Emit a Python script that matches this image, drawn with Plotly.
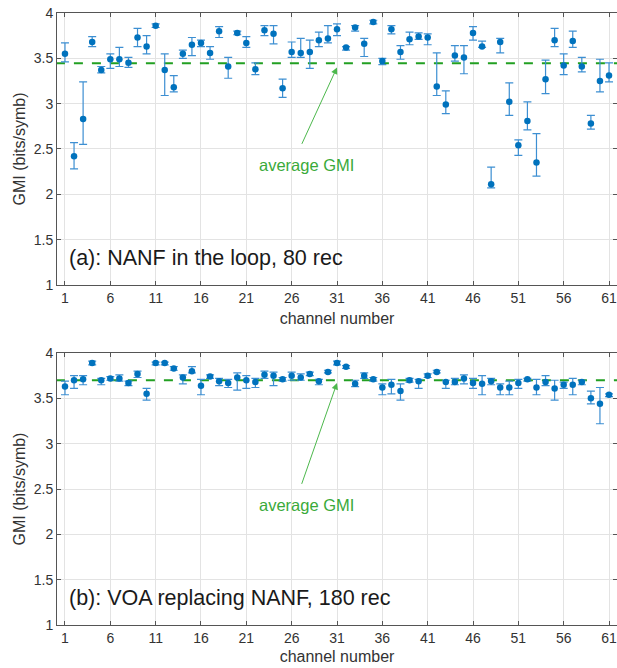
import plotly.graph_objects as go

channels = list(range(1, 62))

# Panel (a): NANF in the loop, 80 rec
gmi_a = [3.55, 2.42, 2.83, 3.68, 3.37, 3.49, 3.49, 3.45, 3.73, 3.63,
         3.86, 3.37, 3.18, 3.55, 3.65, 3.67, 3.56, 3.80, 3.41, 3.78,
         3.67, 3.38, 3.81, 3.77, 3.17, 3.57, 3.56, 3.57, 3.70, 3.72,
         3.82, 3.62, 3.84, 3.66, 3.90, 3.47, 3.82, 3.57, 3.71, 3.74,
         3.73, 3.19, 2.99, 3.53, 3.51, 3.78, 3.63, 2.11, 3.68, 3.02,
         2.54, 2.81, 2.35, 3.27, 3.70, 3.42, 3.69, 3.41, 2.78, 3.25, 3.31]
gmi_a_hi = [3.67, 2.57, 3.24, 3.74, 3.41, 3.55, 3.62, 3.51, 3.83, 3.75,
            3.88, 3.55, 3.31, 3.59, 3.73, 3.70, 3.63, 3.85, 3.51, 3.80,
            3.74, 3.45, 3.86, 3.86, 3.27, 3.68, 3.72, 3.70, 3.79, 3.86,
            3.88, 3.63, 3.86, 3.72, 3.92, 3.50, 3.86, 3.64, 3.79, 3.78,
            3.77, 3.56, 3.14, 3.64, 3.64, 3.85, 3.69, 2.30, 3.72, 3.23,
            2.60, 3.02, 2.67, 3.48, 3.83, 3.55, 3.80, 3.51, 2.87, 3.49, 3.45]
gmi_a_lo = [3.46, 2.28, 2.55, 3.63, 3.34, 3.39, 3.41, 3.40, 3.63, 3.55,
            3.84, 3.09, 3.13, 3.50, 3.53, 3.63, 3.49, 3.73, 3.28, 3.76,
            3.62, 3.32, 3.75, 3.66, 3.07, 3.51, 3.51, 3.39, 3.63, 3.67,
            3.75, 3.59, 3.80, 3.52, 3.88, 3.43, 3.77, 3.49, 3.65, 3.71,
            3.65, 3.09, 2.89, 3.47, 3.33, 3.70, 3.62, 2.07, 3.56, 2.87,
            2.43, 2.71, 2.20, 3.11, 3.63, 3.32, 3.62, 3.35, 2.72, 3.13, 3.24]
avg_a = 3.445

# Panel (b): VOA replacing NANF, 180 rec
gmi_b = [3.63, 3.70, 3.71, 3.89, 3.70, 3.72, 3.72, 3.67, 3.77, 3.55,
         3.89, 3.89, 3.83, 3.73, 3.80, 3.64, 3.74, 3.69, 3.67, 3.73,
         3.70, 3.68, 3.76, 3.75, 3.71, 3.75, 3.73, 3.77, 3.69, 3.79,
         3.89, 3.85, 3.66, 3.75, 3.71, 3.62, 3.65, 3.58, 3.70, 3.69,
         3.75, 3.79, 3.68, 3.68, 3.72, 3.67, 3.66, 3.69, 3.62, 3.62,
         3.67, 3.71, 3.62, 3.68, 3.61, 3.65, 3.65, 3.68, 3.50, 3.44, 3.54]
gmi_b_hi = [3.69, 3.75, 3.75, 3.91, 3.72, 3.74, 3.76, 3.69, 3.80, 3.61,
            3.90, 3.90, 3.85, 3.76, 3.85, 3.71, 3.76, 3.72, 3.71, 3.78,
            3.75, 3.72, 3.80, 3.79, 3.73, 3.79, 3.77, 3.79, 3.71, 3.81,
            3.91, 3.86, 3.70, 3.78, 3.73, 3.66, 3.71, 3.66, 3.72, 3.71,
            3.77, 3.81, 3.70, 3.72, 3.76, 3.72, 3.75, 3.72, 3.66, 3.69,
            3.71, 3.72, 3.71, 3.75, 3.70, 3.68, 3.72, 3.70, 3.58, 3.62, 3.55]
gmi_b_lo = [3.54, 3.61, 3.65, 3.87, 3.65, 3.70, 3.69, 3.64, 3.73, 3.48,
            3.87, 3.87, 3.81, 3.66, 3.78, 3.54, 3.72, 3.64, 3.62, 3.59,
            3.61, 3.62, 3.72, 3.64, 3.69, 3.70, 3.70, 3.75, 3.65, 3.78,
            3.87, 3.83, 3.63, 3.72, 3.69, 3.54, 3.55, 3.48, 3.68, 3.61,
            3.73, 3.78, 3.61, 3.65, 3.66, 3.61, 3.54, 3.65, 3.54, 3.54,
            3.61, 3.69, 3.54, 3.64, 3.48, 3.61, 3.54, 3.65, 3.44, 3.22, 3.52]
avg_b = 3.70

x_ticks = [1, 6, 11, 16, 21, 26, 31, 36, 41, 46, 51, 56, 61]
y_ticks = [1, 1.5, 2, 2.5, 3, 3.5, 4]
panel_labels = ["(a): NANF in the loop, 80 rec", "(b): VOA replacing NANF, 180 rec"]

BLUE = "#0072BD"
BAR = "#3d8fd2"
GREEN_LINE = "#22a022"
GREEN_TXT = "#3aaa3a"
FONT = "Liberation Sans, Arial, sans-serif"

fig = go.Figure()

def add_panel(vals, hi, lo, avg, xa, ya):
    fig.add_trace(go.Scatter(
        x=[channels[0] - 1, channels[-1] + 1], y=[avg, avg], mode="lines",
        line=dict(color=GREEN_LINE, width=2, dash="dash"),
        xaxis=xa, yaxis=ya, showlegend=False, hoverinfo="skip"))
    fig.add_trace(go.Scatter(
        x=channels, y=vals, mode="markers",
        marker=dict(color=BLUE, size=6.5),
        error_y=dict(type="data", symmetric=False,
                     array=[h - v for h, v in zip(hi, vals)],
                     arrayminus=[v - l for v, l in zip(vals, lo)],
                     color=BAR, thickness=1.2, width=4),
        xaxis=xa, yaxis=ya, showlegend=False))

add_panel(gmi_a, gmi_a_hi, gmi_a_lo, avg_a, "x", "y")
add_panel(gmi_b, gmi_b_hi, gmi_b_lo, avg_b, "x2", "y2")

axis_common = dict(showline=True, linecolor="#555555", linewidth=1,
                   mirror="ticks", ticks="inside", ticklen=4, tickcolor="#555555",
                   showgrid=True, gridcolor="#e3e3e3", gridwidth=1, zeroline=False,
                   tickfont=dict(family=FONT, size=14, color="#333333"))

xr = [0.12, 61.88]
fig.update_layout(
    width=617, height=668,
    margin=dict(l=57, r=0, t=13, b=43),
    paper_bgcolor="white", plot_bgcolor="white",
    font=dict(family=FONT, color="#333333"),
    xaxis=dict(domain=[0, 1], range=xr, tickvals=x_ticks, anchor="y",
               ticklabeloverflow="allow",
               title=dict(text="channel number", font=dict(size=16), standoff=8),
               **axis_common),
    yaxis=dict(domain=[0.5556, 1], range=[1, 4], tickvals=y_ticks, anchor="x",
               ticktext=[str(t) for t in y_ticks],
               title=dict(text="GMI (bits/symb)", font=dict(size=16), standoff=4),
               **axis_common),
    xaxis2=dict(domain=[0, 1], range=xr, tickvals=x_ticks, anchor="y2",
                ticklabeloverflow="allow",
                title=dict(text="channel number", font=dict(size=16), standoff=6),
                **axis_common),
    yaxis2=dict(domain=[0, 0.4444], range=[1, 4], tickvals=y_ticks, anchor="x2",
                ticktext=[str(t) for t in y_ticks],
                title=dict(text="GMI (bits/symb)", font=dict(size=16), standoff=4),
                **axis_common),
)

annotations = []
for xa, ya, lab, head_y in [("x", "y", panel_labels[0], 3.40), ("x2", "y2", panel_labels[1], 3.67)]:
    annotations.append(dict(x=1.2, y=1.3, xref=xa, yref=ya, text=lab, showarrow=False,
                            xanchor="left", yanchor="middle",
                            font=dict(family=FONT, size=21.5, color="#1a1a1a")))
    annotations.append(dict(x=31.0, y=head_y, ax=27.05, ay=2.54, xref=xa, yref=ya,
                            axref=xa, ayref=ya, text="", showarrow=True,
                            arrowhead=2, arrowsize=1.3, arrowwidth=1,
                            arrowcolor="#4cb84c"))
    annotations.append(dict(x=27.6, y=2.32, xref=xa, yref=ya, text="average GMI",
                            showarrow=False, xanchor="center", yanchor="middle",
                            font=dict(family=FONT, size=16.5, color=GREEN_TXT)))
fig.update_layout(annotations=annotations)

fig.write_html("out.html")
